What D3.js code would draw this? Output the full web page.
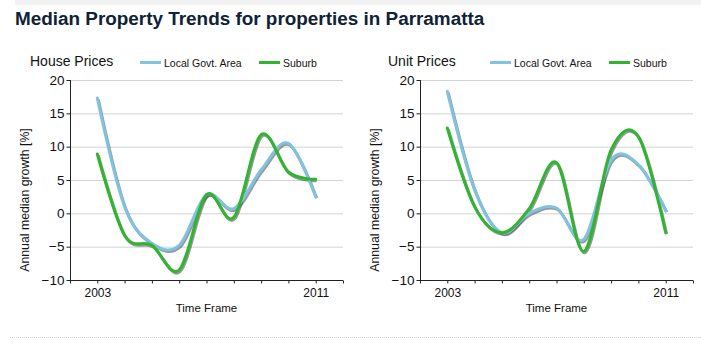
<!DOCTYPE html>
<html><head><meta charset="utf-8">
<script src="https://cdn.jsdelivr.net/npm/d3@7"></script>
<style>
body{margin:0;background:#fff;}
svg{display:block;font-family:"Liberation Sans",Arial,sans-serif;}
</style></head>
<body>
<svg id="c" width="701" height="356"></svg>
<script>
const years = [2003,2004,2005,2006,2007,2008,2009,2010,2011];
const houseLGA    = [17.3, 1.0, -4.5, -4.8, 2.8, 0.7, 6.5, 10.5, 2.5];
const houseSuburb = [8.9, -3.3, -4.8, -8.5, 2.8, -0.6, 11.8, 6.2, 5.1];
const unitLGA     = [18.3, 3.5, -2.9, 0.0, 0.8, -3.9, 8.0, 7.3, 0.4];
const unitSuburb  = [12.8, 1.0, -2.9, 0.7, 7.6, -5.7, 9.5, 11.5, -2.9];
const yTicks = [-10,-5,0,5,10,15,20];
const xTickYears = [2002,2003,2004,2005,2006,2007,2008,2009,2010,2011,2012];
const xLabelYears = [2003,2011];
const seriesNames = ["Local Govt. Area","Suburb"];
const seriesColors = ["#80c2e2","#2fb52f"];

const svg = d3.select("#c");
svg.append("rect").attr("x",15).attr("y",0).attr("width",686).attr("height",5).attr("fill","#f2f2f2");
svg.append("text").attr("x",15).attr("y",25).attr("font-size",18.9).attr("font-weight","bold")
  .attr("fill","#102236").text("Median Property Trends for properties in Parramatta");
svg.append("line").attr("x1",10).attr("x2",701).attr("y1",337.5).attr("y2",337.5)
  .attr("stroke","#d0d0d0").attr("stroke-dasharray","1,1");

function chart(ox, title, titleX, lga, sub){
  const g = svg.append("g");
  const x = d3.scaleLinear().domain([2002,2012]).range([ox+70, ox+343]);
  const y = d3.scaleLinear().domain([-10,20]).range([280,80]);
  g.selectAll("line.grid").data(yTicks.filter(t=>t>-10)).join("line")
    .attr("x1",x(2002)).attr("x2",x(2012)).attr("y1",d=>y(d)+0.5).attr("y2",d=>y(d)+0.5)
    .attr("stroke","#d3d3d3").attr("stroke-width",1);
  const ya = g.append("g").attr("transform",`translate(${x(2002)+0.5},0)`)
    .call(d3.axisLeft(y).tickValues(yTicks).tickSize(4).tickPadding(2));
  ya.select(".domain").attr("stroke","#222").attr("d",`M0,${y(20)}V${y(-10)}`);
  ya.selectAll("text").attr("font-size",13.5).attr("fill","#111").attr("font-family","Liberation Sans, Arial");
  ya.selectAll("line").attr("stroke","#222");
  const xa = g.append("g").attr("transform",`translate(0,${y(-10)+0.5})`)
    .call(d3.axisBottom(x).tickValues(xTickYears).tickSize(3).tickFormat(d=>xLabelYears.includes(d)?String(d):""));
  xa.select(".domain").attr("stroke","#222").attr("d",`M${x(2002)},0H${x(2012)}`);
  xa.selectAll("line").attr("stroke","#222");
  xa.selectAll("text").attr("font-size",12).attr("fill","#111").attr("dy","0.9em").attr("font-family","Liberation Sans, Arial");
  g.append("text").attr("x",x(2007)).attr("y",312).attr("text-anchor","middle").attr("font-size",11.5)
    .attr("fill","#111").text("Time Frame");
  g.append("text").attr("transform",`translate(${ox+29},${y(2.0)}) rotate(-90)`).attr("text-anchor","middle")
    .attr("font-size",12.3).attr("fill","#111").text("Annual median growth [%]");
  g.append("text").attr("x",titleX).attr("y",66).attr("font-size",14).attr("fill","#111").text(title);
  const lx = [ox+140, ox+259];
  seriesNames.forEach((n,i)=>{
    g.append("line").attr("x1",lx[i]).attr("x2",lx[i]+21).attr("y1",62.5).attr("y2",62.5)
      .attr("stroke",seriesColors[i]).attr("stroke-width",3);
    g.append("text").attr("x",lx[i]+24).attr("y",66.5).attr("font-size",10.5).attr("fill","#111").text(n);
  });
  const line = d3.line().x((d,i)=>x(years[i])).y(d=>y(d)).curve(d3.curveCardinal.tension(0));
  [lga, sub].forEach((s,i)=>{
    g.append("path").attr("d",line(s)).attr("fill","none").attr("stroke","#444").attr("stroke-opacity",0.55)
      .attr("stroke-width",3).attr("transform","translate(1,1.5)");
  });
  [lga, sub].forEach((s,i)=>{
    g.append("path").attr("d",line(s)).attr("fill","none").attr("stroke",seriesColors[i])
      .attr("stroke-width",3).attr("stroke-linecap","round");
  });
}
chart(0, "House Prices", 30, houseLGA, houseSuburb);
chart(350, "Unit Prices", 388, unitLGA, unitSuburb);
</script>
</body></html>
